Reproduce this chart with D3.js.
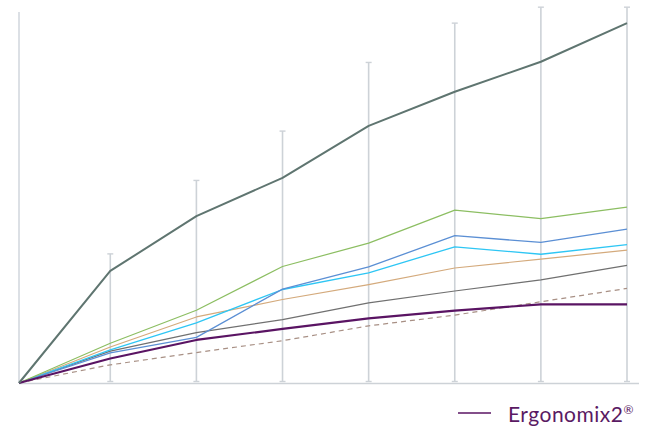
<!DOCTYPE html>
<html>
<head>
<meta charset="utf-8">
<script src="https://cdn.jsdelivr.net/npm/d3@7"></script>
<style>
  html, body { margin: 0; padding: 0; background: #ffffff; }
  svg { display: block; }
</style>
</head>
<body>
<svg id="chart" width="655" height="447"></svg>
<script>
// x positions of the time points
const xValues = [0, 1.06, 2.06, 3.06, 4.06, 5.06, 6.06, 7.06];

// series values
const seriesTop    = [0, 30.2, 45.0, 55.3, 69.3, 78.5, 86.6, 97.0];
const topUpper     = [null, 34.8, 54.6, 67.9, 86.4, 97.0, 101.3, 101.3];
const seriesGreen  = [0, 10.7, 19.6, 31.4, 37.7, 46.6, 44.3, 47.4];
const seriesBlue   = [0, 8.1, 12.3, 25.3, 31.3, 39.7, 37.9, 41.5];
const seriesCyan   = [0, 8.9, 16.2, 25.2, 29.7, 36.7, 34.7, 37.3];
const seriesTan    = [0, 9.7, 17.8, 22.5, 26.5, 31.0, 33.4, 35.8];
const seriesGray   = [0, 8.6, 13.6, 17.1, 21.6, 24.8, 27.8, 31.7];
const seriesPurple = [0, 6.6, 11.6, 14.6, 17.4, 19.5, 21.2, 21.2];
const seriesDashed = [0, 4.9, 8.2, 11.4, 15.4, 18.3, 21.9, 25.5];

const legendLabel = "Ergonomix2";

const svg = d3.select("#chart");
const x = d3.scaleLinear().domain([0, 7.06]).range([19, 627]);
const y = d3.scaleLinear().domain([0, 100]).range([383, 12]);

// whiskers
const whisk = svg.append("g");
xValues.forEach((xv, i) => {
  if (topUpper[i] == null) return;
  const cx = x(xv);
  whisk.append("line").attr("x1", cx).attr("x2", cx)
    .attr("y1", y(topUpper[i])).attr("y2", y(0) - 1.5)
    .attr("stroke", "#cdd2d7").attr("stroke-width", 1.6);
  [y(topUpper[i]), y(0) - 1.5].forEach(yy => {
    whisk.append("line").attr("x1", cx - 3).attr("x2", cx + 3)
      .attr("y1", yy).attr("y2", yy)
      .attr("stroke", "#cdd2d7").attr("stroke-width", 1.4);
  });
});

// axes
svg.append("line").attr("x1", x(0)).attr("x2", x(0))
  .attr("y1", y(100)).attr("y2", y(0))
  .attr("stroke", "#dce0e5").attr("stroke-width", 2);
svg.append("line").attr("x1", x(0)).attr("x2", 639)
  .attr("y1", y(0) + 0.5).attr("y2", y(0) + 0.5)
  .attr("stroke", "#cdd2d7").attr("stroke-width", 1.4);

const line = d3.line().x((d, i) => x(xValues[i])).y(d => y(d));

const series = [
  { data: seriesDashed, color: "#a89085", width: 1.2, dash: "5,4" },
  { data: seriesGray,   color: "#707070", width: 1.2 },
  { data: seriesTan,    color: "#d4aa7c", width: 1.2 },
  { data: seriesCyan,   color: "#2ec6f4", width: 1.3 },
  { data: seriesBlue,   color: "#5b8fd4", width: 1.3 },
  { data: seriesGreen,  color: "#8cbe62", width: 1.2 },
  { data: seriesPurple, color: "#5a1463", width: 2.2 },
  { data: seriesTop,    color: "#5f7570", width: 2 }
];

series.forEach(s => {
  svg.append("path").datum(s.data)
    .attr("d", line)
    .attr("fill", "none")
    .attr("stroke", s.color)
    .attr("stroke-width", s.width)
    .attr("stroke-dasharray", s.dash || null)
    .attr("stroke-linejoin", "round");
});

// legend
svg.append("line").attr("x1", 458).attr("x2", 491).attr("y1", 413).attr("y2", 413)
  .attr("stroke", "#5a1463").attr("stroke-width", 1.5);
const t = svg.append("text").attr("x", 508).attr("y", 421.5)
  .attr("font-family", "Lato, 'Noto Sans', sans-serif")
  .attr("font-size", 21).attr("letter-spacing", 0.5).attr("fill", "#5a1a63");
t.append("tspan").text(legendLabel);
t.append("tspan").attr("font-size", 12).attr("dy", -8).attr("dx", 0).text("®");
</script>
</body>
</html>
